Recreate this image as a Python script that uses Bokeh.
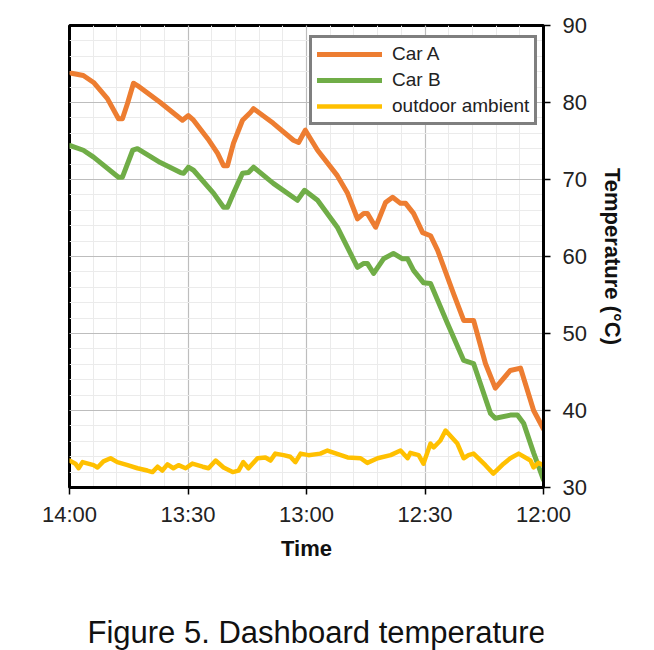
from bokeh.plotting import figure
from bokeh.layouts import column
from bokeh.models import Range1d, FixedTicker, Legend, LegendItem, Label
from bokeh.embed import file_html
from bokeh.resources import INLINE

# minutes after 12:00
car_a_t = [0, 2.5, 5.8, 8.4, 12.2, 14.7, 17.7, 20.2, 22.8, 26.8, 28.6, 30.6, 32.9, 34.9, 36.2,
           38.2, 40.0, 42.5, 44.6, 45.5, 47.1, 49.6, 52.2, 57.2, 60.3, 62, 63.3, 68.4, 73.4, 74.2,
           76.2, 78.5, 80, 81, 82.5, 85, 88.6, 89.9, 91.4, 97, 102.8, 103.8, 105.3, 106.6, 107.6,
           110.4, 113.9, 116.5, 119.5]
car_a = [37.6, 40.0, 45.5, 45.2, 42.9, 46.1, 51.7, 51.7, 55.2, 60.8, 62.7, 63.1, 65.6, 66.9, 66.9,
         67.7, 67.0, 63.8, 65.6, 65.6, 64.9, 68.2, 70.5, 73.8, 76.4, 74.8, 75.1, 77.3, 79.2, 78.7,
         77.7, 74.7, 71.8, 71.8, 73.4, 75.3, 77.7, 78.3, 77.7, 80.0, 82.2, 82.5, 79.9, 77.9, 77.9,
         80.5, 82.6, 83.5, 83.8]

car_b_t = [0, 2.5, 5, 6.6, 8.4, 12.2, 13.4, 17.7, 20.2, 24.3, 28.6, 30.4, 32.9, 34.4, 35.7, 38,
           40.5, 43, 44.6, 45.5, 47.1, 52.2, 57.2, 60.5, 62.3, 68.4, 73.4, 74.7, 76.2, 78.5, 80,
           81, 83.5, 88.6, 89.9, 91.1, 91.9, 97, 102.8, 104, 106.6, 107.6, 113.9, 116.5, 119.8]
car_b = [31.0, 34.5, 38.3, 39.4, 39.4, 39.0, 39.6, 46.1, 46.5, 51.3, 56.5, 56.6, 58.2, 59.7, 59.7,
         60.4, 59.7, 57.8, 59.1, 59.1, 58.6, 63.8, 67.3, 68.6, 67.3, 69.5, 71.6, 70.9, 70.8, 68.2,
         66.4, 66.4, 68.2, 71.2, 71.6, 70.8, 70.9, 72.2, 74.0, 73.8, 70.3, 70.3, 72.9, 73.8, 74.4]

amb_t = [0, 1.3, 2.5, 3.3, 6.3, 8.4, 10.1, 12.7, 14.7, 17.7, 19, 20.2, 21.8, 24.8, 26.1, 27.8,
         28.6, 30.4, 31.6, 33.7, 34.4, 36.2, 38.7, 42, 44.6, 46.3, 49.6, 54.7, 56.5, 59.5, 61.5,
         62.8, 64.1, 65.8, 67.9, 69.1, 70.4, 72.4, 74.7, 76, 77.2, 78.7, 81, 83, 84.8, 86.3, 88.9,
         90.6, 92.4, 93.7, 95.2, 96.5, 97.7, 99, 100.3, 102.8, 105.3, 107.9, 109.6, 111.4, 112.9,
         113.9, 116.7, 117.7, 118.5, 120]
amb = [32.9, 33.2, 32.6, 33.5, 34.4, 33.8, 33.1, 31.8, 32.9, 34.4, 34.2, 33.8, 35.7, 37.4, 36.1,
       35.2, 35.7, 33.1, 34.2, 34.5, 33.8, 34.8, 34.2, 33.8, 33.2, 33.8, 33.9, 34.8, 34.4, 34.2,
       34.4, 33.3, 34.0, 34.2, 34.4, 33.5, 33.9, 33.8, 32.5, 33.3, 32.2, 32.0, 32.6, 33.5, 32.5,
       32.7, 33.1, 32.5, 32.9, 32.5, 33.0, 32.2, 32.7, 32.0, 32.2, 32.5, 32.9, 33.3, 33.8, 33.4,
       32.6, 32.9, 33.3, 32.5, 33.1, 33.5]

x_ticks = [0, 30, 60, 90, 120]
x_labels = ["12:00", "12:30", "13:00", "13:30", "14:00"]
y_ticks = [30, 40, 50, 60, 70, 80, 90]
series_names = ["Car A", "Car B", "outdoor ambient"]
colors = ["#ED7D31", "#70AD47", "#FFC000"]
caption_text = "Figure 5. Dashboard temperature"

FONT = "Liberation Sans"

p = figure(width=654, height=600, output_backend="svg", toolbar_location=None,
           x_range=Range1d(120, 0), y_range=Range1d(30, 90), y_axis_location="right",
           min_border_left=69, min_border_right=111, min_border_top=25, min_border_bottom=113,
           background_fill_color="white", border_fill_color="white")

p.outline_line_color = "black"
p.outline_line_width = 3

p.xaxis.ticker = FixedTicker(ticks=x_ticks, minor_ticks=[i * 6 for i in range(21)])
p.xaxis.major_label_overrides = {t: l for t, l in zip(x_ticks, x_labels)}
p.yaxis.ticker = FixedTicker(ticks=y_ticks, minor_ticks=list(range(30, 91, 2)))

for ax in (p.xaxis[0], p.yaxis[0]):
    ax.axis_line_color = "black"
    ax.axis_line_width = 3
    ax.major_tick_line_color = "black"
    ax.major_tick_line_width = 1.5
    ax.major_tick_out = 7
    ax.major_tick_in = 0
    ax.minor_tick_line_color = None
    ax.major_label_text_font = FONT
    ax.major_label_text_font_size = "22px"
    ax.major_label_text_color = "#222222"
    ax.axis_label_text_font = FONT
    ax.axis_label_text_font_size = "22px"
    ax.axis_label_text_font_style = "bold"
    ax.axis_label_text_color = "#111111"

p.xaxis.axis_label = "Time"
p.yaxis.axis_label = "Temperature (°C)"
p.yaxis.major_label_standoff = 12
p.yaxis.axis_label_standoff = 10
p.xaxis.major_label_standoff = 7
p.xaxis.axis_label_standoff = 6

p.xgrid.grid_line_color = "#bdbdbd"
p.ygrid.grid_line_color = "#bdbdbd"
p.xgrid.minor_grid_line_color = "#ebebeb"
p.ygrid.minor_grid_line_color = "#ebebeb"
p.xgrid.grid_line_width = 1.2
p.ygrid.grid_line_width = 1.2

r1 = p.line(car_a_t, car_a, line_color=colors[0], line_width=5, line_join="round", line_cap="round")
r2 = p.line(car_b_t, car_b, line_color=colors[1], line_width=5, line_join="round", line_cap="round")
r3 = p.line(amb_t, amb, line_color=colors[2], line_width=4.5, line_join="round", line_cap="round")

legend = Legend(items=[LegendItem(label=series_names[0], renderers=[r1]),
                       LegendItem(label=series_names[1], renderers=[r2]),
                       LegendItem(label=series_names[2], renderers=[r3])],
                location=(240, 362))
legend.border_line_color = "black"
legend.border_line_width = 3
legend.background_fill_alpha = 1
legend.label_text_font = FONT
legend.label_text_font_size = "19px"
legend.label_text_color = "#222222"
legend.glyph_width = 65
legend.glyph_height = 18
legend.label_height = 18
legend.spacing = 4
legend.padding = 5
legend.label_standoff = 10
legend.margin = 0
p.add_layout(legend)

# caption strip below the chart
cap = figure(width=654, height=50, output_backend="svg", toolbar_location=None,
             x_range=Range1d(0, 654), y_range=Range1d(0, 50),
             min_border=0, min_border_left=0, min_border_right=0,
             min_border_top=0, min_border_bottom=0,
             background_fill_color="white", border_fill_color="white")
cap.outline_line_color = None
cap.xaxis.visible = False
cap.yaxis.visible = False
cap.xgrid.visible = False
cap.ygrid.visible = False
cap.add_layout(Label(x=341, y=18, text=caption_text, text_align="center",
                     text_baseline="middle", text_font=FONT, text_font_size="31px",
                     text_color="#111111"))

layout = column(p, cap, spacing=0)

open("out.html", "w").write(file_html(layout, INLINE))
